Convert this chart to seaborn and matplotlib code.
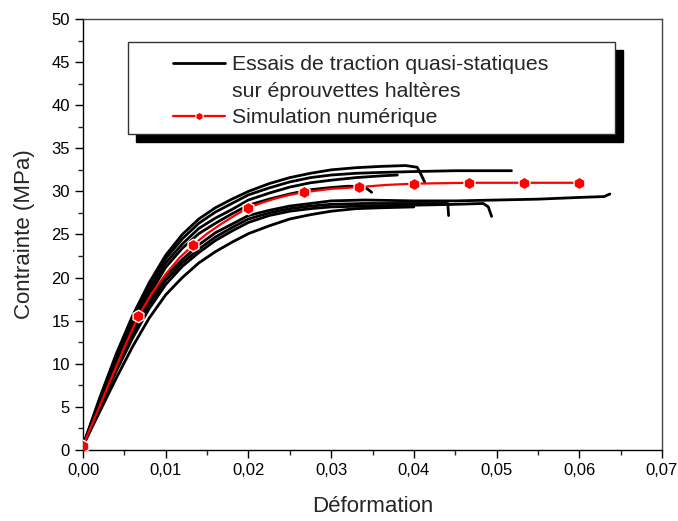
import matplotlib
matplotlib.use("Agg")
import numpy as np
import pandas as pd
import seaborn as sns
import matplotlib.pyplot as plt
from matplotlib.patches import Rectangle
from matplotlib.lines import Line2D
from matplotlib.ticker import MultipleLocator, FuncFormatter

# ---------------- data ----------------
c1_strain = [0, .002, .004, .006, .008, .010, .012, .014, .016, .018, .020, .0225, .025, .0275, .030, .033, .036, .039, .0404, .0409, .0413]
c1_stress = [0.5, 6.0, 11.1, 15.6, 19.4, 22.6, 25.0, 26.8, 28.1, 29.1, 30.0, 30.9, 31.6, 32.1, 32.5, 32.75, 32.9, 33.0, 32.8, 31.9, 31.1]

c2_strain = [0, .002, .004, .006, .008, .010, .012, .014, .016, .018, .020, .0225, .025, .0275, .030, .033, .036, .040, .045, .050, .0518]
c2_stress = [0.5, 5.8, 10.8, 15.2, 19.0, 22.2, 24.5, 26.3, 27.6, 28.6, 29.6, 30.4, 31.1, 31.6, 31.9, 32.1, 32.2, 32.3, 32.4, 32.4, 32.4]

c3_strain = [0, .002, .004, .006, .008, .010, .012, .014, .016, .018, .020, .0225, .025, .0275, .030, .033, .036, .038]
c3_stress = [0.5, 5.6, 10.5, 14.8, 18.5, 21.7, 23.9, 25.7, 26.9, 27.9, 29.0, 29.8, 30.5, 31.0, 31.3, 31.6, 31.8, 31.9]

c4_strain = [0, .002, .004, .006, .008, .010, .012, .014, .016, .018, .020, .0225, .025, .0275, .030, .032, .0339, .0345, .0349]
c4_stress = [0.5, 5.4, 10.2, 14.4, 18.0, 21.2, 23.4, 25.1, 26.3, 27.4, 28.4, 29.1, 29.7, 30.2, 30.45, 30.6, 30.55, 30.2, 29.9]

c5_strain = [0, .002, .004, .006, .008, .010, .012, .014, .016, .018, .020, .0225, .025, .0275, .030, .034, .040, .045, .050, .055, .060, .063, .0637]
c5_stress = [0.5, 5.2, 9.7, 13.8, 17.3, 20.2, 22.1, 23.8, 25.2, 26.2, 27.2, 27.8, 28.3, 28.6, 28.9, 29.0, 28.9, 28.9, 29.0, 29.1, 29.3, 29.4, 29.7]

c6_strain = [0, .002, .004, .006, .008, .010, .012, .014, .016, .018, .020, .0225, .025, .0275, .030, .034, .038, .0441, .0442]
c6_stress = [0.5, 5.0, 9.4, 13.4, 16.9, 19.7, 21.7, 23.3, 24.7, 25.8, 26.8, 27.5, 28.0, 28.3, 28.5, 28.6, 28.6, 28.6, 27.2]

c7_strain = [0, .002, .004, .006, .008, .010, .012, .014, .016, .018, .020, .0225, .025, .0275, .030, .034, .040, .045, .0484, .0490, .0494]
c7_stress = [0.5, 4.8, 9.1, 13.0, 16.4, 19.2, 21.3, 22.9, 24.3, 25.4, 26.4, 27.2, 27.7, 28.0, 28.2, 28.3, 28.4, 28.5, 28.6, 28.2, 27.1]

c8_strain = [0, .002, .004, .006, .008, .010, .012, .014, .016, .018, .020, .0225, .025, .0275, .030, .033, .036, .040]
c8_stress = [0.5, 4.4, 8.3, 12.0, 15.3, 18.0, 20.0, 21.7, 23.0, 24.1, 25.1, 26.0, 26.8, 27.3, 27.7, 28.0, 28.1, 28.2]

sim_strain = [0, .00167, .00333, .005, .00667, .00833, .0100, .01167, .01333, .015, .01667, .01833, .0200, .02167, .02333, .025, .02667, .03, .03333, .03667, .0400, .04667, .05333, .0600]
sim_stress = [0.5, 4.3, 8.1, 11.9, 15.5, 18.2, 20.4, 22.3, 23.8, 25.1, 26.2, 27.2, 28.1, 28.7, 29.2, 29.6, 29.9, 30.3, 30.5, 30.75, 30.9, 31.0, 31.0, 31.0]
sim_marker_idx = [0, 4, 8, 12, 16, 18, 20, 21, 22, 23]

x_ticks = [0.00, 0.01, 0.02, 0.03, 0.04, 0.05, 0.06, 0.07]
y_ticks = [0, 5, 10, 15, 20, 25, 30, 35, 40, 45, 50]

label_exp_1 = "Essais de traction quasi-statiques"
label_exp_2 = "sur éprouvettes haltères"
label_sim = "Simulation numérique"

# ---------------- build long table ----------------
tests = [(c1_strain, c1_stress), (c2_strain, c2_stress), (c3_strain, c3_stress),
         (c4_strain, c4_stress), (c5_strain, c5_stress), (c6_strain, c6_stress),
         (c7_strain, c7_stress), (c8_strain, c8_stress)]
rows = []
for i, (xs, ys) in enumerate(tests):
    for k, (xv, yv) in enumerate(zip(xs, ys)):
        rows.append({"test": i, "order": k, "strain": xv, "stress": yv})
df = pd.DataFrame(rows)

# ---------------- figure ----------------
sns.set_style("ticks")
plt.rcParams["font.family"] = ["Liberation Sans", "DejaVu Sans"]

W, H = 678, 521
fig = plt.figure(figsize=(W / 100, H / 100), dpi=100)
L, R, T, B = 83, 662, 19, 450
ax = fig.add_axes([L / W, 1 - B / H, (R - L) / W, (B - T) / H])

sns.lineplot(data=df, x="strain", y="stress", units="test", estimator=None,
             sort=False, color="black", lw=2.0, ax=ax, legend=False, zorder=2)
sns.lineplot(x=sim_strain, y=sim_stress, sort=False, color="red", lw=1.6,
             marker="h", markersize=9, markeredgecolor="white", markeredgewidth=1.0,
             markevery=sim_marker_idx, ax=ax, legend=False, zorder=3)

ax.set_xlim(0, 0.07)
ax.set_ylim(0, 50)
ax.set_xticks(x_ticks)
ax.set_yticks(y_ticks)
ax.xaxis.set_minor_locator(MultipleLocator(0.005))
ax.yaxis.set_minor_locator(MultipleLocator(2.5))
ax.xaxis.set_major_formatter(FuncFormatter(lambda v, p: f"{v:.2f}".replace(".", ",")))
ax.yaxis.set_major_formatter(FuncFormatter(lambda v, p: f"{v:.0f}"))
ax.tick_params(which="major", direction="out", length=6, width=1, labelsize=12,
               top=False, right=False, colors="black")
ax.tick_params(which="minor", direction="out", length=3.5, width=1,
               top=False, right=False)
for s in ["left", "bottom"]:
    ax.spines[s].set_color("black")
    ax.spines[s].set_linewidth(1.0)
for s in ["top", "right"]:
    ax.spines[s].set_visible(True)
    ax.spines[s].set_color("#444444")
    ax.spines[s].set_linewidth(1.0)

ax.set_xlabel("Déformation", fontsize=16, labelpad=13)
ax.set_ylabel("Contrainte (MPa)", fontsize=16, labelpad=12)

# ---------------- legend box with shadow ----------------
bx0, bx1 = (128 - L) / (R - L), (615 - L) / (R - L)
by0, by1 = (B - 134) / (B - T), (B - 42) / (B - T)
dx, dy = 8 / (R - L), 8 / (B - T)
ax.add_patch(Rectangle((bx0 + dx, by0 - dy), bx1 - bx0, by1 - by0, transform=ax.transAxes,
                       facecolor="black", edgecolor="black", zorder=4))
ax.add_patch(Rectangle((bx0, by0), bx1 - bx0, by1 - by0, transform=ax.transAxes,
                       facecolor="white", edgecolor="#333333", lw=1.0, zorder=4.5))

handles = [Line2D([], [], color="black", lw=2.0),
           Line2D([], [], color="none"),
           Line2D([], [], color="red", lw=1.6, marker="h", markersize=6,
                  markeredgecolor="white", markeredgewidth=0.8)]
leg = ax.legend(handles, [label_exp_1, label_exp_2, label_sim],
                loc="upper left", bbox_to_anchor=((173 - L) / (R - L), (B - 55) / (B - T)),
                frameon=False, fontsize=15.3, handlelength=2.45, handletextpad=0.35,
                labelspacing=0.36, borderpad=0, borderaxespad=0)
leg.set_zorder(6)

fig.savefig("out.png", dpi=100)
